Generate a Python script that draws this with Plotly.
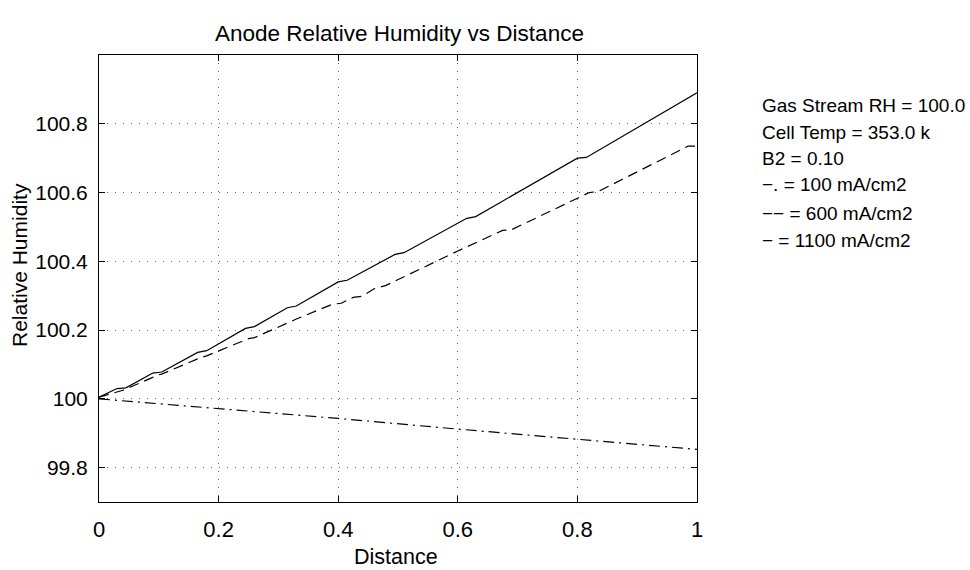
import plotly.graph_objects as go

# Data
x_1100 = [0.0, 0.03, 0.045, 0.09, 0.105, 0.165, 0.18, 0.245, 0.26, 0.315, 0.33, 0.40, 0.415,
          0.495, 0.51, 0.615, 0.63, 0.80, 0.815, 1.0]
rh_1100 = [100.005, 100.03, 100.032, 100.075, 100.078, 100.135, 100.14, 100.205, 100.21,
           100.265, 100.27, 100.34, 100.345, 100.42, 100.425, 100.525, 100.53, 100.70, 100.702, 100.89]

x_600 = [0.0, 0.04, 0.10, 0.105, 0.17, 0.18, 0.25, 0.26, 0.33, 0.39, 0.405, 0.425, 0.44, 0.46,
         0.48, 0.60, 0.675, 0.69, 0.82, 0.835, 0.985, 1.0]
rh_600 = [100.005, 100.025, 100.07, 100.072, 100.12, 100.125, 100.175, 100.178, 100.232, 100.275,
          100.278, 100.295, 100.298, 100.32, 100.33, 100.43, 100.49, 100.492, 100.60, 100.603,
          100.735, 100.735]

x_100 = [0.0, 0.2, 0.4, 0.6, 0.8, 1.0]
rh_100 = [100.0, 99.972, 99.943, 99.912, 99.882, 99.853]

x_ticks = [0, 0.2, 0.4, 0.6, 0.8, 1]
x_ticklabels = ["0", "0.2", "0.4", "0.6", "0.8", "1"]
y_ticks = [99.8, 100, 100.2, 100.4, 100.6, 100.8]
y_ticklabels = ["99.8", "100", "100.2", "100.4", "100.6", "100.8"]

info_lines = ["Gas Stream RH = 100.0", "Cell Temp = 353.0 k", "B2 = 0.10",
              "\u2212. = 100 mA/cm2", "\u2212\u2212 = 600 mA/cm2", "\u2212 = 1100 mA/cm2"]

FONT = "Liberation Sans, Arial, sans-serif"

fig = go.Figure()
fig.add_trace(go.Scatter(x=x_1100, y=rh_1100, mode="lines",
                         line=dict(color="black", width=1.2), showlegend=False))
fig.add_trace(go.Scatter(x=x_600, y=rh_600, mode="lines",
                         line=dict(color="black", width=1.2, dash="10px,6px"), showlegend=False))
fig.add_trace(go.Scatter(x=x_100, y=rh_100, mode="lines",
                         line=dict(color="black", width=1.2, dash="11px,5px,2px,5px"), showlegend=False))

L, R, T, B = 99, 273, 55, 68
W, H = 970, 570
ph = H - T - B
pw = W - L - R

axis_common = dict(showline=True, linecolor="black", linewidth=1, mirror="ticks",
                   ticks="inside", ticklen=6, tickcolor="black",
                   showgrid=True, gridcolor="#666666", gridwidth=1, griddash="1px,7px",
                   zeroline=False)

fig.update_xaxes(range=[0, 1], tickvals=x_ticks, ticktext=x_ticklabels,
                 ticklabelstandoff=8, tickfont=dict(family=FONT, size=22, color="black"),
                 **axis_common)
fig.update_yaxes(range=[99.7, 101.0], tickvals=y_ticks, ticktext=y_ticklabels,
                 ticklabelstandoff=6, tickfont=dict(family=FONT, size=21, color="black"),
                 **axis_common)

annotations = []
annotations.append(dict(text="Anode Relative Humidity vs Distance", xref="paper", yref="paper",
                        x=(399 - L) / pw, y=(H - B - 34) / ph, xanchor="center", yanchor="middle",
                        showarrow=False, font=dict(family=FONT, size=22.5, color="black")))
annotations.append(dict(text="Distance", xref="paper", yref="paper",
                        x=(396 - L) / pw, y=(H - B - 557) / ph, xanchor="center", yanchor="middle",
                        showarrow=False, font=dict(family=FONT, size=21.5, color="black")))
annotations.append(dict(text="Relative Humidity", xref="paper", yref="paper", textangle=-90,
                        x=(19 - L) / pw, y=(H - B - 265) / ph, xanchor="center", yanchor="middle",
                        showarrow=False, font=dict(family=FONT, size=21, color="black")))
ys = [105, 132, 158, 185, 213, 240]
for txt, yy in zip(info_lines, ys):
    annotations.append(dict(text=txt, xref="paper", yref="paper",
                            x=(760 - L) / pw, y=(H - B - yy) / ph,
                            xanchor="left", yanchor="middle", showarrow=False,
                            font=dict(family=FONT, size=19, color="black")))

fig.update_layout(width=W, height=H, margin=dict(l=L, r=R, t=T, b=B, pad=0),
                  paper_bgcolor="white", plot_bgcolor="white",
                  annotations=annotations, showlegend=False)

fig.write_html("out.html")
